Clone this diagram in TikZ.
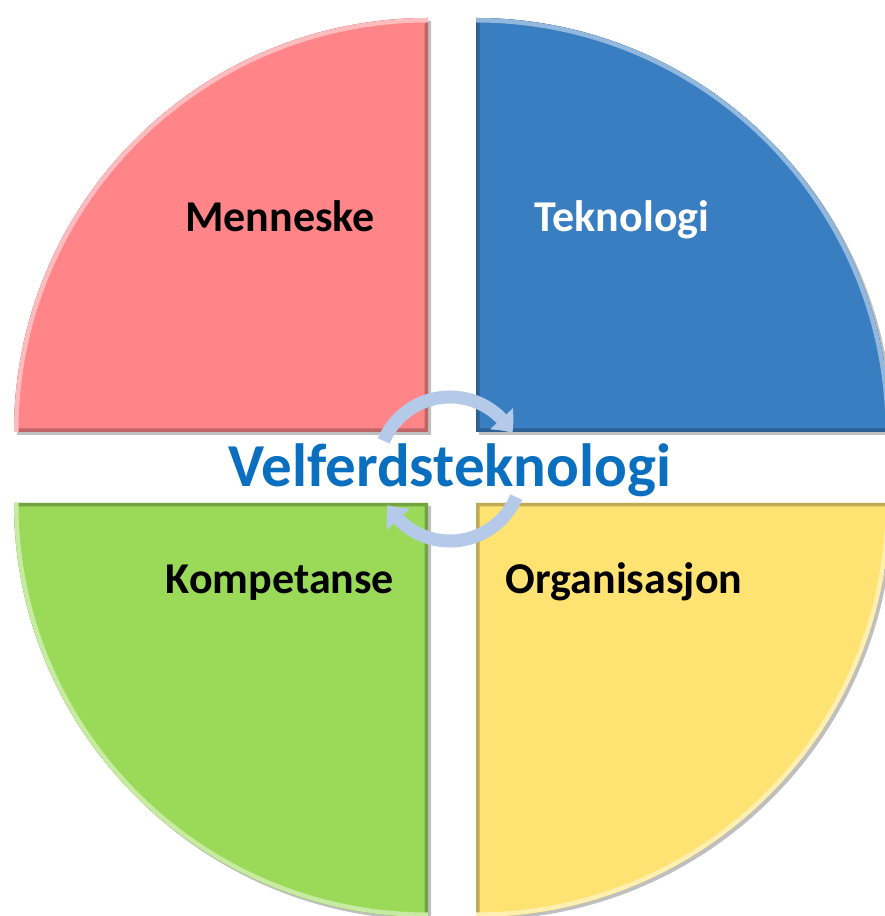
\documentclass[tikz,border=0pt]{standalone}
\usepackage{fontspec}
\setmainfont{Carlito}
\usepackage{tikz}
\usetikzlibrary{arrows.meta}
\usetikzlibrary{bending}

\definecolor{pinkq}{HTML}{FF8589}
\definecolor{blueq}{HTML}{3A7EC2}
\definecolor{greenq}{HTML}{9BDA58}
\definecolor{yellowq}{HTML}{FFE372}
\definecolor{cyclecol}{HTML}{B5CAE9}
\definecolor{titlecol}{HTML}{0A6FBF}

\begin{document}
\begin{tikzpicture}[x=1pt,y=1pt]
   \clip (0,0) rectangle (885,916);
   \fill[white] (0,0) rectangle (885,916);

   % quarter discs: centre x / centre y / start angle / colour
   \foreach \cx/\cy/\a/\col in {428/484/90/pinkq, 476/484/0/blueq, 428/413/180/greenq, 476/413/270/yellowq} {
      \fill[black, opacity=.25] (\cx+3,\cy-3) -- ++(\a:414) arc[start angle=\a, delta angle=90, radius=414] -- cycle;
      \begin{scope}
         \clip (\cx,\cy) -- ++(\a:414) arc[start angle=\a, delta angle=90, radius=414] -- cycle;
         \fill[\col] (\cx,\cy) -- ++(\a:414) arc[start angle=\a, delta angle=90, radius=414] -- cycle;
         \draw[\col!75!black, line width=7] (\cx,\cy) -- ++(\a:414) arc[start angle=\a, delta angle=90, radius=414] -- cycle;
         \draw[\col!55!white, line width=9] (\cx,\cy) ++(\a:414) arc[start angle=\a, delta angle=90, radius=414];
      \end{scope}
   }

   \coordinate (hub) at (450,447);
   \draw[cyclecol, line width=13, -{Triangle[width=30pt,length=18pt,bend]}]
      (hub) ++(157:72) arc[start angle=157, end angle=30, radius=72];
   \draw[cyclecol, line width=13, -{Triangle[width=30pt,length=18pt,bend]}]
      (hub) ++(-23:72) arc[start angle=-23, end angle=-150, radius=72];

   \node[anchor=base, style={
      font=\fontsize{44}{50}\selectfont\bfseries,
      text=black
   }] (menneske) at (280,684) {Menneske};
   \node[anchor=base, style={
      font=\fontsize{44}{50}\selectfont\bfseries,
      text=white
   }] (teknologi) at (622,684) {Teknologi};
   \node[anchor=base, style={
      font=\fontsize{44}{50}\selectfont\bfseries,
      text=black
   }] (kompetanse) at (280,322) {Kompetanse};
   \node[anchor=base, style={
      font=\fontsize{44}{50}\selectfont\bfseries,
      text=black
   }] (organisasjon) at (624,322) {Organisasjon};
   \node[anchor=base, style={
      font=\fontsize{61}{70}\selectfont\bfseries,
      text=titlecol
   }] (velferd) at (450,429) {Velferdsteknologi};

\end{tikzpicture}
\end{document}
